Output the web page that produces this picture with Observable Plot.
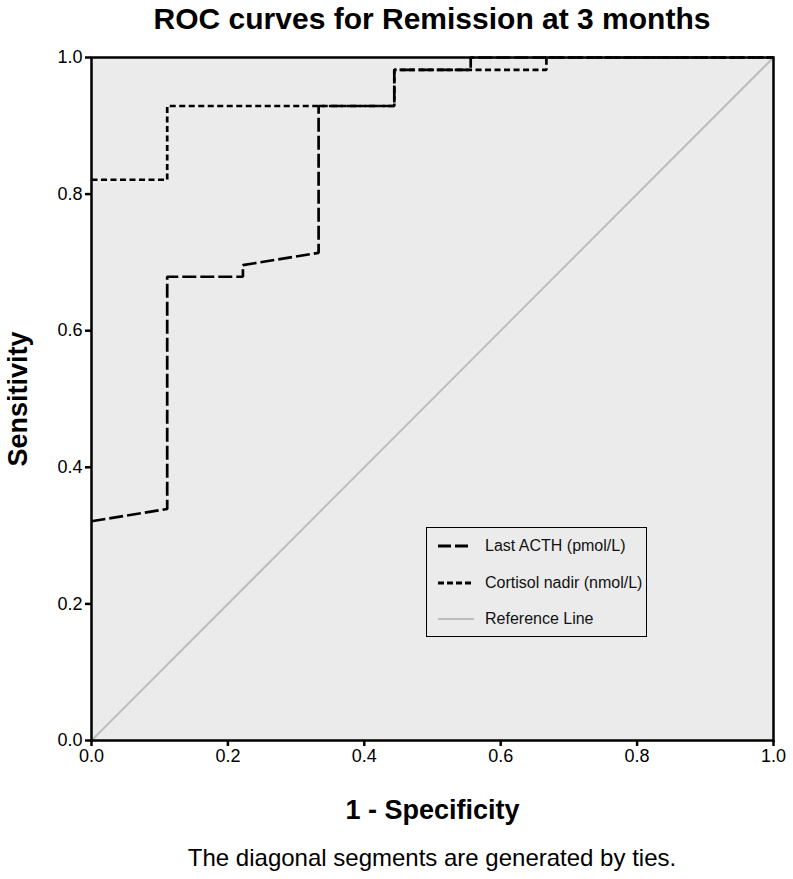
<!DOCTYPE html>
<html>
<head>
<meta charset="utf-8">
<script src="https://cdn.jsdelivr.net/npm/d3@7"></script>
<script src="https://cdn.jsdelivr.net/npm/@observablehq/plot@0.6"></script>
<style>
  html, body { margin: 0; padding: 0; background: #fff; }
  body { font-family: "Liberation Sans", Arial, sans-serif; width: 793px; height: 879px; overflow: hidden; }
  #wrap { position: relative; width: 793px; height: 879px; }
  #title { position: absolute; left: 91px; width: 682px; top: 0; height: 45px; line-height: 38px; text-align: center; font-weight: bold; font-size: 30px; color: #000; white-space: nowrap; }
  #chart { position: absolute; left: 0; top: 45px; }
  #caption { position: absolute; left: 91px; width: 682px; top: 830px; height: 49px; line-height: 56px; text-align: center; font-size: 24px; color: #000; white-space: nowrap; }
  #legend { position: absolute; left: 426px; top: 527px; width: 219px; height: 108px; border: 1.5px solid #000; box-sizing: content-box; }
  .entry { position: absolute; left: 0; height: 24px; display: flex; align-items: center; font-family: "Liberation Sans", Arial, sans-serif; font-size: 16px; color: #111; white-space: nowrap; }
  .entry svg { margin-left: 11px; margin-right: 11px; }
  #chart svg g[aria-label="x-axis label"], #chart svg g[aria-label="y-axis label"] { font-family: "Liberation Sans", Arial, sans-serif !important; font-size: 27px !important; font-weight: bold !important; }
  #chart svg g[aria-label="x-axis tick label"], #chart svg g[aria-label="y-axis tick label"] { font-family: "Liberation Sans", Arial, sans-serif !important; font-size: 18px !important; }
</style>
</head>
<body>
<div id="wrap">
  <div id="title"></div>
  <div id="chart"></div>
  <div id="legend"></div>
  <div id="caption"></div>
</div>
<script>
const titleText = "ROC curves for Remission at 3 months";
const captionText = "The diagonal segments are generated by ties.";
const xLabel = "1 - Specificity";
const yLabel = "Sensitivity";
const tickValues = [0, 0.2, 0.4, 0.6, 0.8, 1.0];

// Last ACTH (pmol/L)
const acthX = [0, 0.111, 0.111, 0.222, 0.222, 0.333, 0.333, 0.444, 0.444, 0.556, 0.556, 1];
const acthY = [0.321, 0.339, 0.679, 0.679, 0.696, 0.714, 0.929, 0.929, 0.982, 0.982, 1, 1];
// Cortisol nadir (nmol/L)
const cortX = [0, 0.111, 0.111, 0.444, 0.444, 0.667, 0.667, 1];
const cortY = [0.821, 0.821, 0.929, 0.929, 0.982, 0.982, 1, 1];
// Reference line
const refX = [0, 1];
const refY = [0, 1];

const seriesNames = ["Last ACTH (pmol/L)", "Cortisol nadir (nmol/L)", "Reference Line"];
const seriesDash = ["14,4", "6,3.5", null];
const legendDash = ["13,4", "6,3", null];
const seriesColor = ["#000", "#000", "#bdbdbd"];
const seriesWidth = [2.7, 2.7, 2];

const toRows = (xs, ys) => xs.map((x, i) => ({x, y: ys[i]}));

document.getElementById("title").textContent = titleText;
document.getElementById("caption").textContent = captionText;

const fmt = d3.format(".1f");
const plot = Plot.plot({
  width: 793,
  height: 785,
  marginTop: 12,
  marginLeft: 91,
  marginRight: 20,
  marginBottom: 90,
  style: { fontFamily: "Liberation Sans, Arial, sans-serif", fontSize: "18px", color: "#000", background: "transparent" },
  x: { domain: [0, 1], label: xLabel },
  y: { domain: [0, 1], label: yLabel },
  marks: [
    Plot.frame({ fill: "#ebebeb" }),
    Plot.line(toRows(refX, refY), { x: "x", y: "y", stroke: seriesColor[2], strokeWidth: seriesWidth[2] }),
    Plot.line(toRows(acthX, acthY), { x: "x", y: "y", stroke: seriesColor[0], strokeWidth: seriesWidth[0], strokeDasharray: seriesDash[0], strokeLinejoin: "miter", strokeLinecap: "butt" }),
    Plot.line(toRows(cortX, cortY), { x: "x", y: "y", stroke: seriesColor[1], strokeWidth: seriesWidth[1], strokeDasharray: seriesDash[1], strokeLinejoin: "miter", strokeLinecap: "butt" }),
    Plot.frame({ stroke: "#000", strokeWidth: 2.5 }),
    Plot.axisX({ ticks: tickValues, tickFormat: fmt, tickSize: 6, tickPadding: 3, strokeWidth: 2.5, fontSize: 18, label: xLabel, labelArrow: "none", labelAnchor: "center", labelOffset: 78 }),
    Plot.axisY({ ticks: tickValues, tickFormat: fmt, tickSize: 6, tickPadding: 3, strokeWidth: 2.5, fontSize: 18, label: yLabel, labelArrow: "none", labelAnchor: "center", labelOffset: 84 })
  ]
});
document.getElementById("chart").appendChild(plot);

// Legend
const legend = document.getElementById("legend");
const entryTops = [6, 43, 79];
seriesNames.forEach((name, i) => {
  const e = document.createElement("div");
  e.className = "entry";
  e.style.top = entryTops[i] + "px";
  const ns = "http://www.w3.org/2000/svg";
  const s = document.createElementNS(ns, "svg");
  s.setAttribute("width", 36); s.setAttribute("height", 10);
  const l = document.createElementNS(ns, "line");
  l.setAttribute("x1", 0); l.setAttribute("x2", i === 0 ? 30 : 36); l.setAttribute("y1", 5); l.setAttribute("y2", 5);
  l.setAttribute("stroke", seriesColor[i]);
  l.setAttribute("stroke-width", i === 2 ? 2.2 : 3);
  if (legendDash[i]) l.setAttribute("stroke-dasharray", legendDash[i]);
  s.appendChild(l);
  e.appendChild(s);
  const t = document.createElement("span");
  t.textContent = name;
  e.appendChild(t);
  legend.appendChild(e);
});
</script>
</body>
</html>
